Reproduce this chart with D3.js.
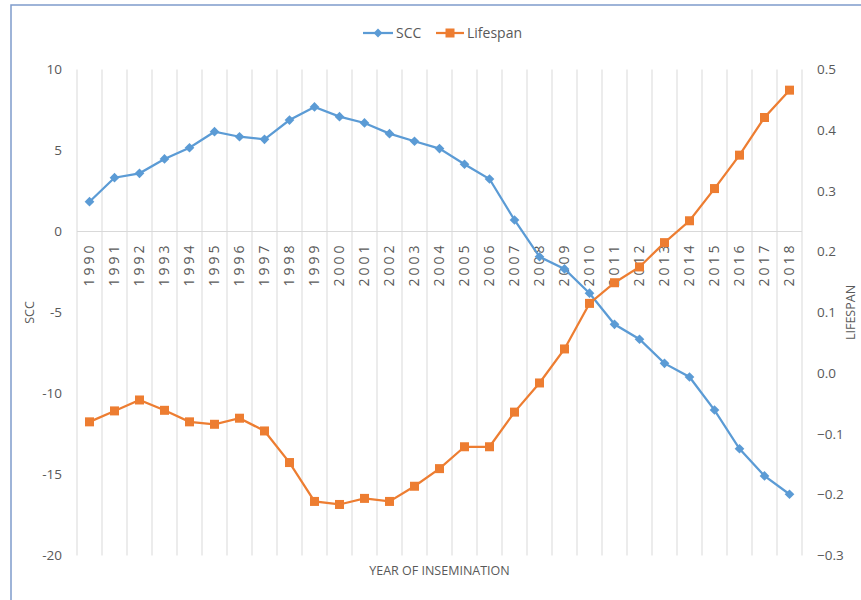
<!DOCTYPE html>
<html>
<head>
<meta charset="utf-8">
<script src="https://cdn.jsdelivr.net/npm/d3@7"></script>
<style>
  body { margin: 0; background: #fff; }
  text { font-family: "Open Sans", sans-serif; fill: #595959; }
</style>
</head>
<body>
<script>
// data
var years = ["1990","1991","1992","1993","1994","1995","1996","1997","1998","1999",
  "2000","2001","2002","2003","2004","2005","2006","2007","2008","2009",
  "2010","2011","2012","2013","2014","2015","2016","2017","2018"];
var scc = [1.84, 3.32, 3.59, 4.48, 5.17, 6.16, 5.85, 5.69, 6.88, 7.69,
  7.09, 6.70, 6.04, 5.57, 5.12, 4.15, 3.24, 0.71, -1.56, -2.31,
  -3.81, -5.73, -6.65, -8.14, -8.98, -11.02, -13.41, -15.09, -16.22];
var lifespan = [-0.080, -0.062, -0.044, -0.061, -0.080, -0.084, -0.074, -0.095, -0.147, -0.211,
  -0.216, -0.206, -0.211, -0.186, -0.157, -0.121, -0.121, -0.064, -0.016, 0.040,
  0.115, 0.149, 0.175, 0.215, 0.251, 0.304, 0.359, 0.421, 0.466];
var leftTicks = [10, 5, 0, -5, -10, -15, -20];
var rightTicks = [0.5, 0.4, 0.3, 0.2, 0.1, 0.0, -0.1, -0.2, -0.3];

var W = 861, H = 600;
var plotL = 77, plotR = 802, plotT = 69.5, plotB = 555.5;
var blue = "#5b9bd5", orange = "#ed7d31", grid = "#d9d9d9";

var svg = d3.select("body").append("svg")
  .attr("width", W)
  .attr("height", H);

// frame
svg.append("path")
  .attr("d", "M11,600 L11,5 L861,5")
  .attr("fill", "none")
  .attr("stroke", "#7f9ccc")
  .attr("stroke-width", 1.5);

var x = d3.scaleBand().domain(years).range([plotL, plotR]);
var yL = d3.scaleLinear().domain([-20, 10]).range([plotB, plotT]);
var yR = d3.scaleLinear().domain([-0.3, 0.5]).range([plotB, plotT]);

// vertical gridlines at category boundaries
var bounds = years.map(function(d) { return x(d); }).concat([plotR]);
svg.append("g").selectAll("line")
  .data(bounds)
  .join("line")
  .attr("x1", function(d) { return d; })
  .attr("x2", function(d) { return d; })
  .attr("y1", plotT)
  .attr("y2", plotB)
  .attr("stroke", grid)
  .attr("stroke-width", 1);

// zero line
svg.append("line")
  .attr("x1", plotL).attr("x2", plotR)
  .attr("y1", yL(0)).attr("y2", yL(0))
  .attr("stroke", grid)
  .attr("stroke-width", 1);

// left axis labels
svg.append("g").selectAll("text")
  .data(leftTicks)
  .join("text")
  .attr("x", 62)
  .attr("y", function(d) { return yL(d); })
  .attr("dy", "0.35em")
  .attr("text-anchor", "end")
  .attr("font-size", 13.5)
  .text(function(d) { return d; });

// right axis labels
svg.append("g").selectAll("text")
  .data(rightTicks)
  .join("text")
  .attr("x", 817)
  .attr("y", function(d) { return yR(d); })
  .attr("dy", "0.35em")
  .attr("text-anchor", "start")
  .attr("font-size", 13.5)
  .text(function(d) { return d3.format(".1f")(d); });

// x tick labels, rotated
svg.append("g").selectAll("text")
  .data(years)
  .join("text")
  .attr("transform", function(d) {
    return "translate(" + (x(d) + x.bandwidth() / 2) + "," + (yL(0) + 11) + ") rotate(-90)";
  })
  .attr("dy", "0.35em")
  .attr("text-anchor", "end")
  .attr("font-size", 14)
  .attr("letter-spacing", "3px")
  .text(function(d) { return d; });

// axis titles
svg.append("text")
  .attr("x", (plotL + plotR) / 2)
  .attr("y", 575)
  .attr("text-anchor", "middle")
  .attr("font-size", 12.5)
  .text("YEAR OF INSEMINATION");

svg.append("text")
  .attr("transform", "translate(30," + yL(-5) + ") rotate(-90)")
  .attr("dy", "0.35em")
  .attr("text-anchor", "middle")
  .attr("font-size", 12.5)
  .text("SCC");

svg.append("text")
  .attr("transform", "translate(851," + yR(0.1) + ") rotate(-90)")
  .attr("dy", "0.35em")
  .attr("text-anchor", "middle")
  .attr("font-size", 12.5)
  .text("LIFESPAN");

var cx = function(d, i) { return x(years[i]) + x.bandwidth() / 2; };

// SCC series
svg.append("path")
  .datum(scc)
  .attr("fill", "none")
  .attr("stroke", blue)
  .attr("stroke-width", 2.25)
  .attr("d", d3.line().x(cx).y(function(d) { return yL(d); }));

svg.append("g").selectAll("path")
  .data(scc)
  .join("path")
  .attr("d", d3.symbol().type(d3.symbolDiamond2).size(60))
  .attr("transform", function(d, i) { return "translate(" + cx(d, i) + "," + yL(d) + ")"; })
  .attr("fill", blue);

// Lifespan series
svg.append("path")
  .datum(lifespan)
  .attr("fill", "none")
  .attr("stroke", orange)
  .attr("stroke-width", 2.25)
  .attr("d", d3.line().x(cx).y(function(d) { return yR(d); }));

svg.append("g").selectAll("rect")
  .data(lifespan)
  .join("rect")
  .attr("x", function(d, i) { return cx(d, i) - 4.5; })
  .attr("y", function(d) { return yR(d) - 4.5; })
  .attr("width", 9)
  .attr("height", 9)
  .attr("fill", orange);

// legend
var legend = svg.append("g").attr("transform", "translate(363,33)");
legend.append("line").attr("x1", 0).attr("x2", 30).attr("stroke", blue).attr("stroke-width", 2.25);
legend.append("path")
  .attr("d", d3.symbol().type(d3.symbolDiamond2).size(50))
  .attr("transform", "translate(15,0)")
  .attr("fill", blue);
legend.append("text").attr("x", 33).attr("dy", "0.35em").attr("font-size", 14).text("SCC");

legend.append("line").attr("x1", 73).attr("x2", 101).attr("stroke", orange).attr("stroke-width", 2.25);
legend.append("rect").attr("x", 82.5).attr("y", -4.5).attr("width", 9).attr("height", 9).attr("fill", orange);
legend.append("text").attr("x", 104).attr("dy", "0.35em").attr("font-size", 14).text("Lifespan");
</script>
</body>
</html>
